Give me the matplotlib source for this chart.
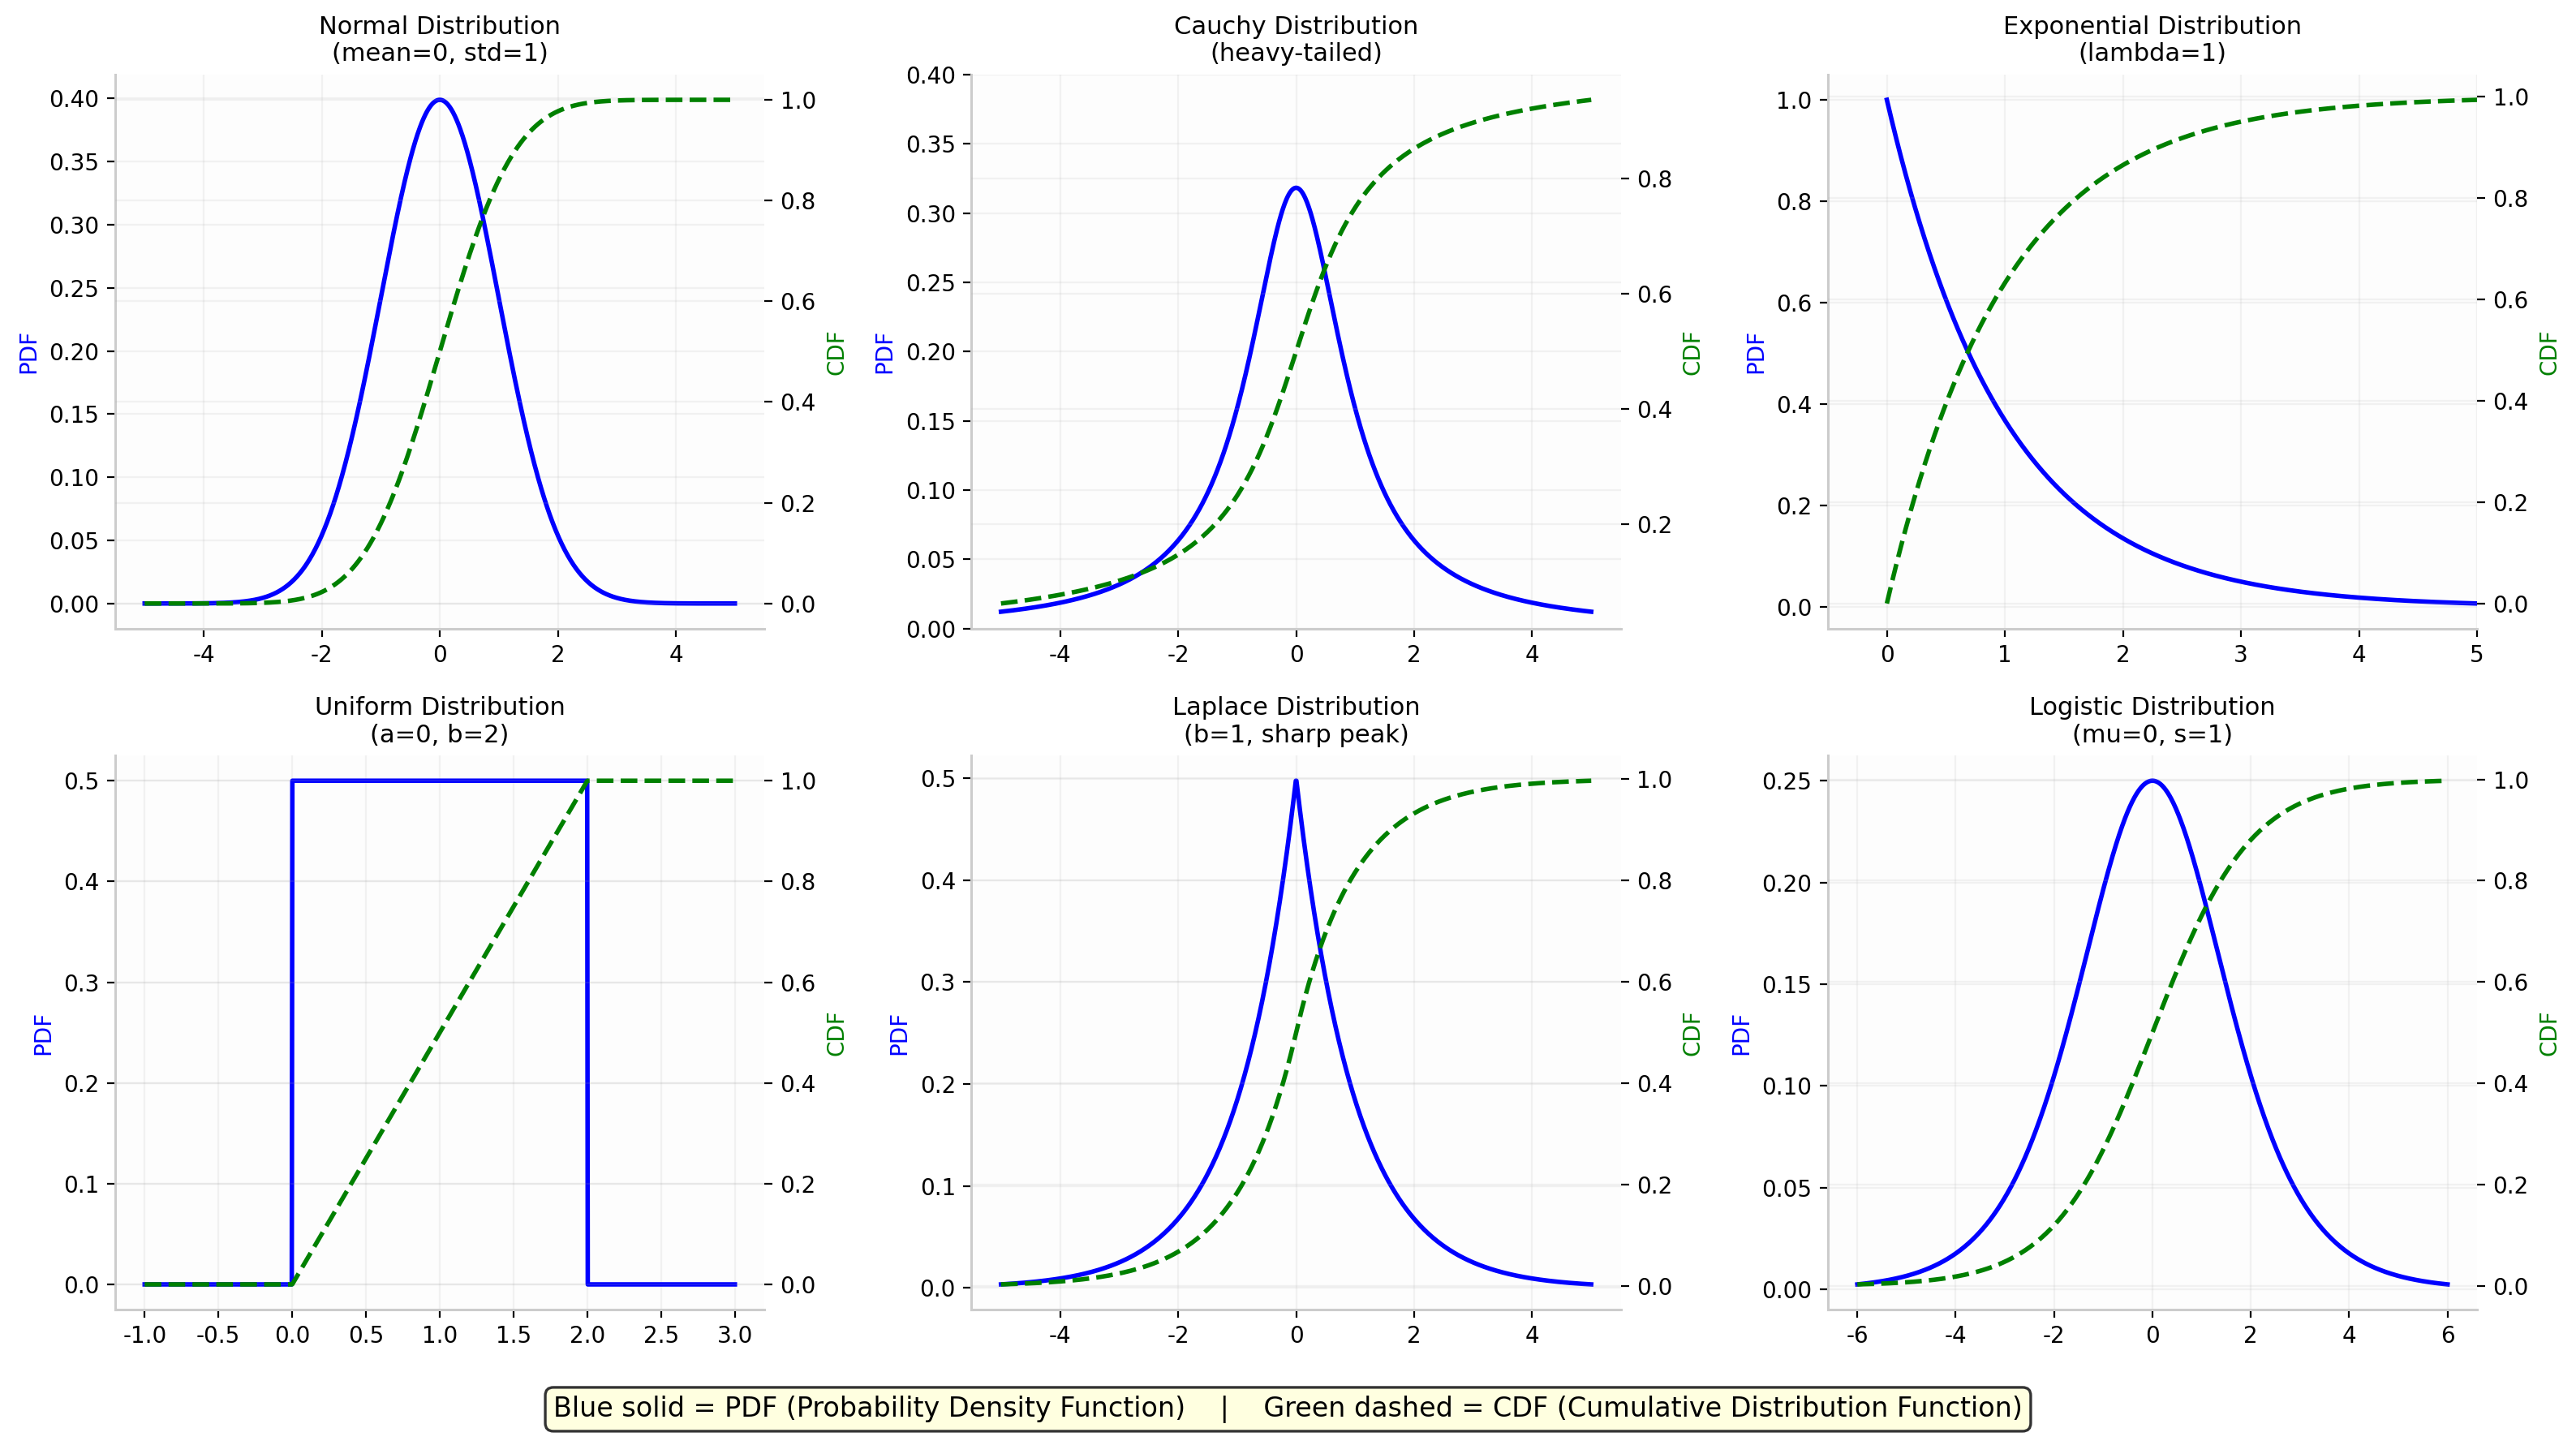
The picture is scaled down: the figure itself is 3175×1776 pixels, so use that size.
import math
import numpy as np
import matplotlib
matplotlib.use('Agg')
import matplotlib.pyplot as plt

plt.rcParams['font.family'] = ['DejaVu Sans']
plt.rcParams['axes.unicode_minus'] = False
plt.rcParams['axes.spines.top'] = False
plt.rcParams['axes.spines.right'] = False
plt.rcParams['axes.edgecolor'] = '#cccccc'
plt.rcParams['axes.linewidth'] = 1.1
plt.rcParams['axes.facecolor'] = '#fdfdfd'

# distribution parameters
titles = ['Normal Distribution\n(mean=0, std=1)',
          'Cauchy Distribution\n(heavy-tailed)',
          'Exponential Distribution\n(lambda=1)',
          'Uniform Distribution\n(a=0, b=2)',
          'Laplace Distribution\n(b=1, sharp peak)',
          'Logistic Distribution\n(mu=0, s=1)']
x_ranges = [(-5, 5), (-5, 5), (0, 5), (-1, 3), (-5, 5), (-6, 6)]
normal_params = (0, 1)       # mean, std
cauchy_params = (0, 1)       # loc, scale
expon_lambda = 1
uniform_params = (0, 2)      # a, b
laplace_params = (0, 1)      # loc, b
logistic_params = (0, 1)     # mu, s

n_pts = 1000
erf = np.vectorize(math.erf)


def normal(x):
    m, s = normal_params
    pdf = np.exp(-0.5 * ((x - m) / s) ** 2) / (s * np.sqrt(2 * np.pi))
    cdf = 0.5 * (1 + erf((x - m) / (s * np.sqrt(2))))
    return pdf, cdf


def cauchy(x):
    l, g = cauchy_params
    pdf = 1 / (np.pi * g * (1 + ((x - l) / g) ** 2))
    cdf = 0.5 + np.arctan((x - l) / g) / np.pi
    return pdf, cdf


def expon(x):
    pdf = expon_lambda * np.exp(-expon_lambda * x)
    cdf = 1 - np.exp(-expon_lambda * x)
    return pdf, cdf


def uniform(x):
    a, b = uniform_params
    pdf = np.where((x >= a) & (x <= b), 1 / (b - a), 0.0)
    cdf = np.clip((x - a) / (b - a), 0, 1)
    return pdf, cdf


def laplace(x):
    m, b = laplace_params
    pdf = np.exp(-np.abs(x - m) / b) / (2 * b)
    cdf = np.where(x < m, 0.5 * np.exp((x - m) / b), 1 - 0.5 * np.exp(-(x - m) / b))
    return pdf, cdf


def logistic(x):
    m, s = logistic_params
    z = np.exp(-(x - m) / s)
    pdf = z / (s * (1 + z) ** 2)
    cdf = 1 / (1 + z)
    return pdf, cdf


funcs = [normal, cauchy, expon, uniform, laplace, logistic]

fig, axes = plt.subplots(2, 3, figsize=(15.875, 8.88), dpi=200)
fig.subplots_adjust(left=0.0447, right=0.9616, top=0.9482, bottom=0.0912,
                    wspace=0.319, hspace=0.229)

for i, ax in enumerate(axes.flat):
    lo, hi = x_ranges[i]
    x = np.linspace(lo, hi, n_pts)
    pdf, cdf = funcs[i](x)

    ax.plot(x, pdf, color='blue', lw=2)
    ax.set_ylabel('PDF', color='blue', fontsize=10)
    ax.set_title(titles[i], fontsize=11)
    ax.grid(True, alpha=0.15)
    ax.tick_params(labelsize=10)

    ax2 = ax.twinx()
    ax2.plot(x, cdf, color='green', ls='--', lw=2)
    ax2.set_ylabel('CDF', color='green', fontsize=10)
    ax2.grid(True, alpha=0.15)
    ax2.tick_params(labelsize=10)
    for s in ['top', 'right', 'left', 'bottom']:
        ax2.spines[s].set_visible(False)

    if i == 1:
        ax.set_ylim(0, 0.4)
    if i == 2:
        ax.set_xlim(-0.5, 5)

fig.text(0.5, 0.022,
         'Blue solid = PDF (Probability Density Function)    |    '
         'Green dashed = CDF (Cumulative Distribution Function)',
         ha='center', va='center', fontsize=12,
         bbox=dict(boxstyle='round,pad=0.3', facecolor='lightyellow',
                   edgecolor='#333333', lw=1.2))

fig.savefig('out.png', dpi=200)
